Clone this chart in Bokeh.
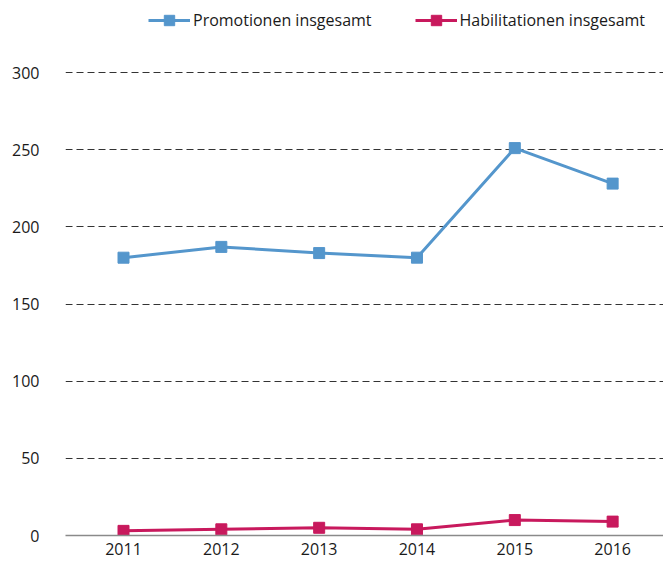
from bokeh.plotting import figure
from bokeh.models import Legend, LegendItem, FixedTicker, Range1d
from bokeh.embed import file_html
from bokeh.resources import INLINE

years = [2011, 2012, 2013, 2014, 2015, 2016]
promotionen = [180, 187, 183, 180, 251, 228]
habilitationen = [3, 4, 5, 4, 10, 9]
y_ticks = [0, 50, 100, 150, 200, 250, 300]
series_names = ["Promotionen insgesamt", "Habilitationen insgesamt"]

BLUE = "#5496CC"
RED = "#C8195D"
FONT = "Open Sans"

# frame spans the full height; the 0..300 band occupies the lower 463 px of 535
FRAME_H = 535
BAND_H = 463
y_max = 300 * FRAME_H / BAND_H

p = figure(width=663, height=570, output_backend="svg", toolbar_location=None,
           x_range=Range1d(2010.407, 2016.52), y_range=Range1d(0, y_max),
           min_border_left=65, min_border_right=0, min_border_top=0, min_border_bottom=35)
p.outline_line_color = None
p.background_fill_color = "white"
p.border_fill_color = "white"

l1 = p.line(years, promotionen, line_color=BLUE, line_width=3)
s1 = p.scatter(years, promotionen, marker="square", size=11, fill_color=BLUE, line_color=BLUE)
l2 = p.line(years, habilitationen, line_color=RED, line_width=3)
s2 = p.scatter(years, habilitationen, marker="square", size=11, fill_color=RED, line_color=RED)

# axes
p.xaxis.ticker = FixedTicker(ticks=years)
p.xaxis.major_tick_line_color = None
p.xaxis.minor_tick_line_color = None
p.xaxis.axis_line_color = "#8a8a8a"
p.xaxis.axis_line_width = 1.5
p.xaxis.major_label_text_font = FONT
p.xaxis.major_label_text_font_size = "16px"
p.xaxis.major_label_text_color = "#1a1a1a"
p.xaxis.major_label_standoff = 1

p.yaxis.ticker = FixedTicker(ticks=y_ticks)
p.yaxis.major_tick_line_color = None
p.yaxis.minor_tick_line_color = None
p.yaxis.axis_line_color = None
p.yaxis.major_label_text_font = FONT
p.yaxis.major_label_text_font_size = "16px"
p.yaxis.major_label_text_color = "#1a1a1a"
p.yaxis.major_label_standoff = 20

p.xgrid.grid_line_color = None
p.ygrid.grid_line_color = "#333333"
p.ygrid.grid_line_dash = "7 4"
p.ygrid.grid_line_width = 1

legend = Legend(items=[LegendItem(label=series_names[0], renderers=[l1, s1]),
                       LegendItem(label=series_names[1], renderers=[l2, s2])],
                orientation="horizontal", location=(83, 502),
                label_text_font=FONT, label_text_font_size="16px",
                label_text_color="#1a1a1a", glyph_width=42, glyph_height=26,
                label_standoff=3, spacing=43, padding=0, margin=0,
                border_line_color=None, background_fill_alpha=0)
p.add_layout(legend, "center")

open("out.html", "w").write(file_html(p, INLINE))
